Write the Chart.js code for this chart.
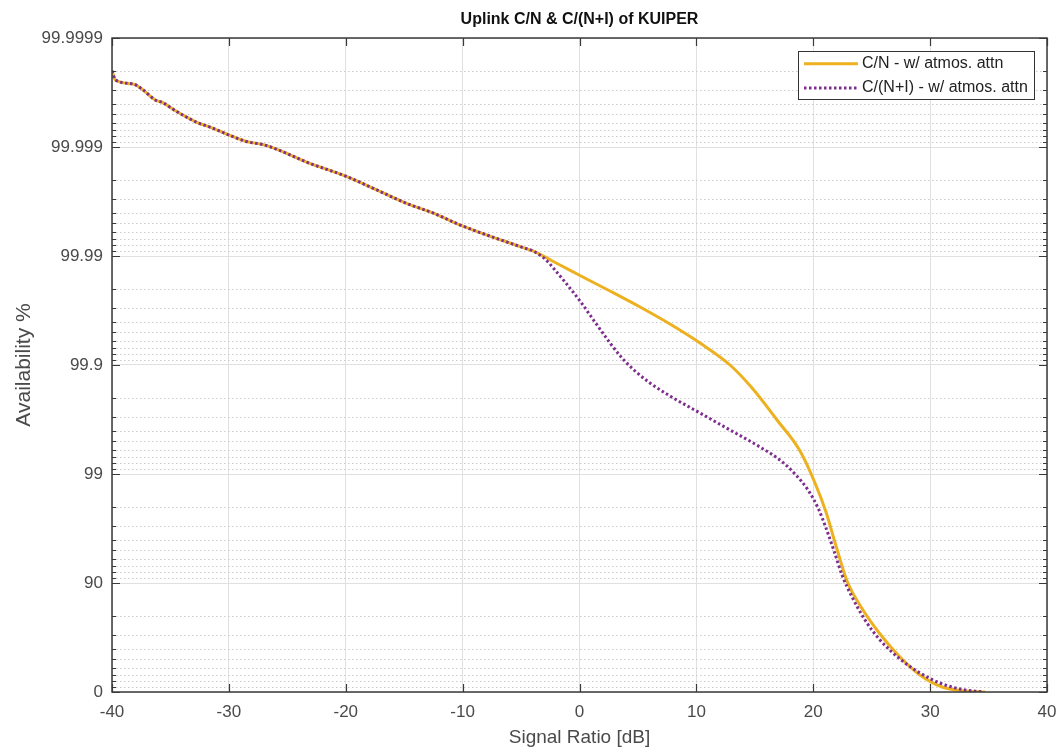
<!DOCTYPE html>
<html>
<head>
<meta charset="utf-8">
<title>Uplink C/N & C/(N+I) of KUIPER</title>
<script src="https://cdn.jsdelivr.net/npm/chart.js@4.4.1/dist/chart.umd.min.js"></script>
<style>
  html, body { margin: 0; padding: 0; background: #fff; }
  #wrap { width: 1060px; height: 752px; position: relative; }
</style>
</head>
<body>
<div id="wrap"><canvas id="availChart"></canvas></div>
<script>
// shared part of both curves (they overlap up to about -4 dB)
const commonX = [-40.0, -39.7, -38.2, -37.5, -36.3, -35.7, -34.5, -32.8, -31.4, -29.7, -28.5, -27.1, -26.2, -25.1, -23.4, -19.9, -17.7, -14.8, -12.5, -10.2, -5.0, -4.0];
const commonAvail = [99.99980, 99.999757, 99.999736, 99.99971, 99.99963, 99.99961, 99.99953, 99.99941, 99.99933, 99.99920, 99.99911, 99.99905, 99.99898, 99.99886, 99.99863, 99.99813, 99.99762, 99.99671, 99.99596, 99.99480, 99.99174, 99.99101];

// C/N - w/ atmos. attn
const cnX = [-1.67, 0.04, 2.61, 5.18, 7.74, 10.31, 12.88, 14.84, 16.90, 18.87, 20.15, 21.09, 21.95, 22.89, 24.09, 25.71, 27.42, 29.13, 31.02, 32.98, 34.7];
const cnAvail = [99.98791, 99.98490, 99.97904, 99.97063, 99.95794, 99.93716, 99.9, 99.8339, 99.6804, 99.3848, 98.791, 97.768, 95.42, 90.41, 83.40, 70.63, 52.26, 30.18, 10.03, 2.1, 0];

// C/(N+I) - w/ atmos. attn
const cniX = [-2.95, -2.10, -1.24, 0.04, 1.32, 2.61, 3.64, 4.75, 6.03, 7.74, 10.31, 12.88, 15.44, 17.15, 18.44, 19.55, 20.41, 21.09, 21.78, 22.46, 23.32, 24.43, 25.71, 27.42, 29.13, 30.84, 32.56, 34.5];
const cniAvail = [99.98935, 99.98656, 99.98268, 99.97413, 99.95969, 99.93716, 99.91373, 99.8865, 99.8538, 99.8075, 99.7243, 99.6052, 99.4347, 99.2561, 99.0, 98.598, 97.950, 96.871, 94.913, 91.554, 86.56, 78.15, 66.67, 50.2, 33.06, 17.3, 6.1, 0];

const seriesNames = ['C/N - w/ atmos. attn', 'C/(N+I) - w/ atmos. attn'];
const xTicks = [-40, -30, -20, -10, 0, 10, 20, 30, 40];
const availTicks = [99.9999, 99.999, 99.99, 99.9, 99, 90, 0];

// y axis is log of unavailability, so 99.9999 .. 0 are evenly spaced
const toU = a => 100 - a;
const majorU = availTicks.map(toU);
const minorU = [];
for (let n = -4; n < 2; n++) {
  for (let k = 2; k <= 9; k++) minorU.push(k * Math.pow(10, n));
}

function makePoints(xs, av) {
  return xs.map((x, i) => ({ x: x, y: toU(av[i]) }));
}
const cnData = makePoints(commonX.concat(cnX), commonAvail.concat(cnAvail));
const cniData = makePoints(commonX.concat(cniX), commonAvail.concat(cniAvail));

const FONT = "'Liberation Sans', Arial, Helvetica, sans-serif";
const YELLOW = '#EDB120';
const PURPLE = '#7E2F8E';
const TXT = '#4a4a4a';

// minor grid, frame with inward ticks, legend in the corner
const axesBox = {
  id: 'axesBox',
  beforeDatasetsDraw(chart) {
    const { ctx, chartArea: a, scales: { y } } = chart;
    ctx.save();
    ctx.strokeStyle = '#cccccc';
    ctx.lineWidth = 1;
    ctx.setLineDash([1.5, 2.5]);
    minorU.forEach(v => {
      const py = Math.round(y.getPixelForValue(v)) + 0.5;
      ctx.beginPath();
      ctx.moveTo(a.left, py);
      ctx.lineTo(a.right, py);
      ctx.stroke();
    });
    ctx.restore();
  },
  afterDatasetsDraw(chart) {
    const { ctx, chartArea: a, scales: { x, y } } = chart;
    ctx.save();
    ctx.strokeStyle = '#3a3a3a';
    ctx.lineWidth = 1.5;
    ctx.strokeRect(a.left, a.top, a.right - a.left, a.bottom - a.top);

    ctx.lineWidth = 1.2;
    ctx.beginPath();
    xTicks.forEach(v => {
      const px = Math.round(x.getPixelForValue(v)) + 0.5;
      ctx.moveTo(px, a.bottom); ctx.lineTo(px, a.bottom - 8);
      ctx.moveTo(px, a.top); ctx.lineTo(px, a.top + 8);
    });
    majorU.forEach(v => {
      const py = Math.round(y.getPixelForValue(v)) + 0.5;
      ctx.moveTo(a.left, py); ctx.lineTo(a.left + 8, py);
      ctx.moveTo(a.right, py); ctx.lineTo(a.right - 8, py);
    });
    minorU.forEach(v => {
      const py = Math.round(y.getPixelForValue(v)) + 0.5;
      ctx.moveTo(a.left, py); ctx.lineTo(a.left + 4, py);
      ctx.moveTo(a.right, py); ctx.lineTo(a.right - 4, py);
    });
    ctx.stroke();

    // legend
    const w = 236, h = 48;
    const lx = a.right - 13 - w, ly = a.top + 13;
    ctx.fillStyle = '#fff';
    ctx.fillRect(lx, ly, w, h);
    ctx.strokeStyle = '#333';
    ctx.lineWidth = 1;
    ctx.strokeRect(lx + 0.5, ly + 0.5, w, h);

    const rows = [ly + 12.7, ly + 37];
    ctx.lineWidth = 3;
    ctx.strokeStyle = YELLOW;
    ctx.beginPath(); ctx.moveTo(lx + 6, rows[0]); ctx.lineTo(lx + 60, rows[0]); ctx.stroke();
    ctx.strokeStyle = PURPLE;
    ctx.setLineDash([2.5, 2.5]);
    ctx.beginPath(); ctx.moveTo(lx + 6, rows[1]); ctx.lineTo(lx + 60, rows[1]); ctx.stroke();
    ctx.setLineDash([]);

    ctx.fillStyle = '#222';
    ctx.font = '16px ' + FONT;
    ctx.textBaseline = 'middle';
    ctx.textAlign = 'left';
    ctx.fillText(seriesNames[0], lx + 64, rows[0]);
    ctx.fillText(seriesNames[1], lx + 64, rows[1]);
    ctx.restore();
  }
};

const ctx = document.getElementById('availChart').getContext('2d');
new Chart(ctx, {
  type: 'line',
  data: {
    datasets: [
      { label: seriesNames[0], data: cnData, borderColor: YELLOW, borderWidth: 3,
        pointRadius: 0, cubicInterpolationMode: 'monotone', fill: false, order: 2 },
      { label: seriesNames[1], data: cniData, borderColor: PURPLE, borderWidth: 3,
        borderDash: [2.5, 2.5], pointRadius: 0, cubicInterpolationMode: 'monotone', fill: false, order: 1 }
    ]
  },
  options: {
    responsive: true,
    maintainAspectRatio: false,
    animation: false,
    devicePixelRatio: 1,
    layout: { padding: { left: 0, right: 13, top: 0, bottom: 0 } },
    plugins: {
      legend: { display: false },
      tooltip: { enabled: false },
      title: {
        display: true,
        fullSize: false,
        text: 'Uplink C/N & C/(N+I) of KUIPER',
        color: '#111',
        font: { family: FONT, size: 16, weight: 'bold' },
        padding: { top: 10.4, bottom: 8.4 }
      }
    },
    scales: {
      x: {
        type: 'linear',
        min: -40, max: 40,
        afterBuildTicks: s => { s.ticks = xTicks.map(v => ({ value: v })); },
        afterFit: s => { s.height = 60; s.paddingLeft = 0; s.paddingRight = 0; },
        grid: { color: '#e0e0e0', lineWidth: 1, drawTicks: false },
        border: { display: false },
        ticks: { color: TXT, font: { family: FONT, size: 17 }, padding: 10, maxRotation: 0 },
        title: { display: true, text: 'Signal Ratio [dB]', color: TXT,
                 font: { family: FONT, size: 19 }, padding: { top: 0, bottom: 3 } }
      },
      y: {
        type: 'logarithmic',
        reverse: true,
        min: 1e-4, max: 100,
        afterBuildTicks: s => { s.ticks = majorU.map(v => ({ value: v })); },
        afterFit: s => { s.width = 112; s.paddingTop = 0; s.paddingBottom = 0; },
        grid: { color: '#e0e0e0', lineWidth: 1, drawTicks: false },
        border: { display: false },
        ticks: {
          color: TXT, font: { family: FONT, size: 17 }, padding: 9, autoSkip: false,
          callback: (v, i) => String(availTicks[i])
        },
        title: { display: true, text: 'Availability %', color: TXT,
                 font: { family: FONT, size: 21 }, padding: { top: 11.4, bottom: 0 } }
      }
    }
  },
  plugins: [axesBox]
});
</script>
</body>
</html>
